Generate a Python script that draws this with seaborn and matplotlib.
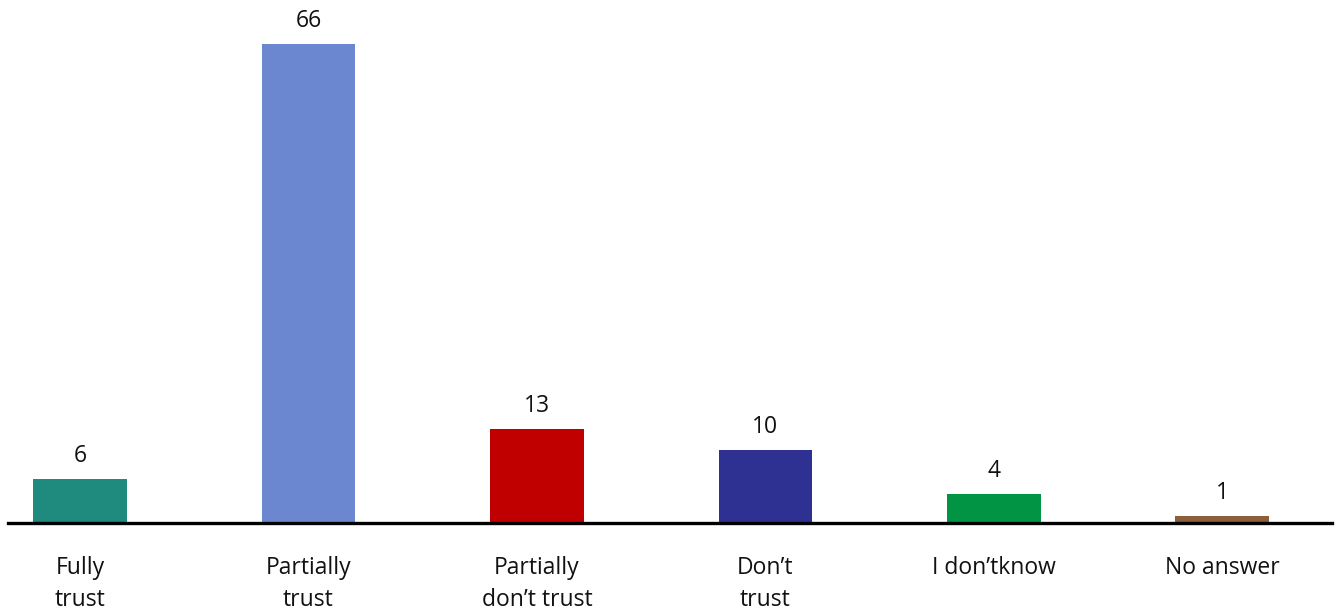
import matplotlib
matplotlib.use("Agg")
import matplotlib.pyplot as plt
import seaborn as sns
import pandas as pd

categories = ["Fully\ntrust", "Partially\ntrust", "Partially\ndon\u2019t trust",
              "Don\u2019t\ntrust", "I don\u2019tknow", "No answer"]
values = [6, 66, 13, 10, 4, 1]
colors = ["#1F8A7E", "#6A87D0", "#C00000", "#2E3192", "#009444", "#8B5E3C"]

sns.set_theme(style="white")
plt.rcParams["font.family"] = ["Open Sans", "DejaVu Sans"]

df = pd.DataFrame({"category": categories, "value": values})

fig = plt.figure(figsize=(13.36, 6.11), dpi=100)
ax = fig.add_axes([8 / 1336, 88 / 611, 1324 / 1336, 523 / 611])

sns.barplot(data=df, x="category", y="value", hue="category",
            palette=colors, width=0.41, saturation=1, legend=False,
            linewidth=0, ax=ax)

for i, v in enumerate(values):
    ax.annotate(str(v), xy=(i, v), xytext=(0, 8), textcoords="offset points",
                ha="center", va="bottom", fontsize=16.5, color="#111111")

ax.set_xlim(-0.315, 5.48)
ax.set_ylim(0, 72.06)
ax.set_xlabel("")
ax.set_ylabel("")
ax.set_yticks([])
for side in ["top", "right", "left"]:
    ax.spines[side].set_visible(False)
ax.spines["bottom"].set_linewidth(2.4)
ax.spines["bottom"].set_color("black")
ax.tick_params(axis="x", length=0, pad=23.5, labelsize=16.5, labelcolor="#111111")
for lbl in ax.get_xticklabels():
    lbl.set_linespacing(1.47)
    lbl.set_verticalalignment("top")

fig.savefig("out.png", dpi=100)
